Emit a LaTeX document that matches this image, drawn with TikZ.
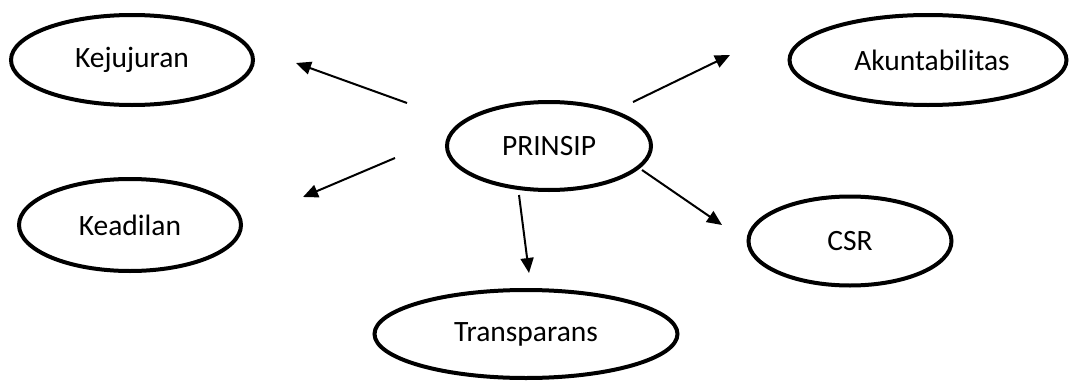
\documentclass[tikz,border=0pt]{standalone}
\usepackage{fontspec}
\setmainfont{Carlito}
\usetikzlibrary{shapes.geometric,arrows.meta}
\tikzset{
  bubble/.style={ellipse, draw=black, line width=4pt, inner sep=0pt,
    font=\fontsize{29.5}{35}\selectfont},
  link/.style={line width=2pt, -{Triangle[length=15pt,width=13pt]}}
}
\begin{document}
\begin{tikzpicture}[x=1pt,y=-1pt]
\useasboundingbox[fill=white] (0,0) rectangle (1069,383);
\node[bubble, minimum width=242pt, minimum height=90pt] (kej) at (132,60) {Kejujuran\hspace{12pt}};
\node[bubble, minimum width=277pt, minimum height=90pt] (aku) at (928,60) {\hspace{8pt}Akuntabilitas};
\node[bubble, minimum width=204pt, minimum height=88pt] (prin) at (549,146) {PRINSIP\hspace{8pt}};
\node[bubble, minimum width=222pt, minimum height=92pt] (kead) at (130,225) {Keadilan\hspace{14pt}};
\node[bubble, minimum width=203pt, minimum height=89pt] (csr) at (850,241) {CSR};
\node[bubble, minimum width=303pt, minimum height=88pt] (trans) at (526,334) {Transparans\hspace{22pt}};

\coordinate (a1s) at (407,103); \coordinate (a1e) at (296,63);
\coordinate (a2s) at (395,158); \coordinate (a2e) at (303,197);
\coordinate (a3s) at (633,102); \coordinate (a3e) at (730,55);
\coordinate (a4s) at (642,170); \coordinate (a4e) at (722,225);
\coordinate (a5s) at (519,195); \coordinate (a5e) at (529,273);
\draw[link] (a1s) -- (a1e);
\draw[link] (a2s) -- (a2e);
\draw[link] (a3s) -- (a3e);
\draw[link] (a4s) -- (a4e);
\draw[link] (a5s) -- (a5e);
\end{tikzpicture}
\end{document}
